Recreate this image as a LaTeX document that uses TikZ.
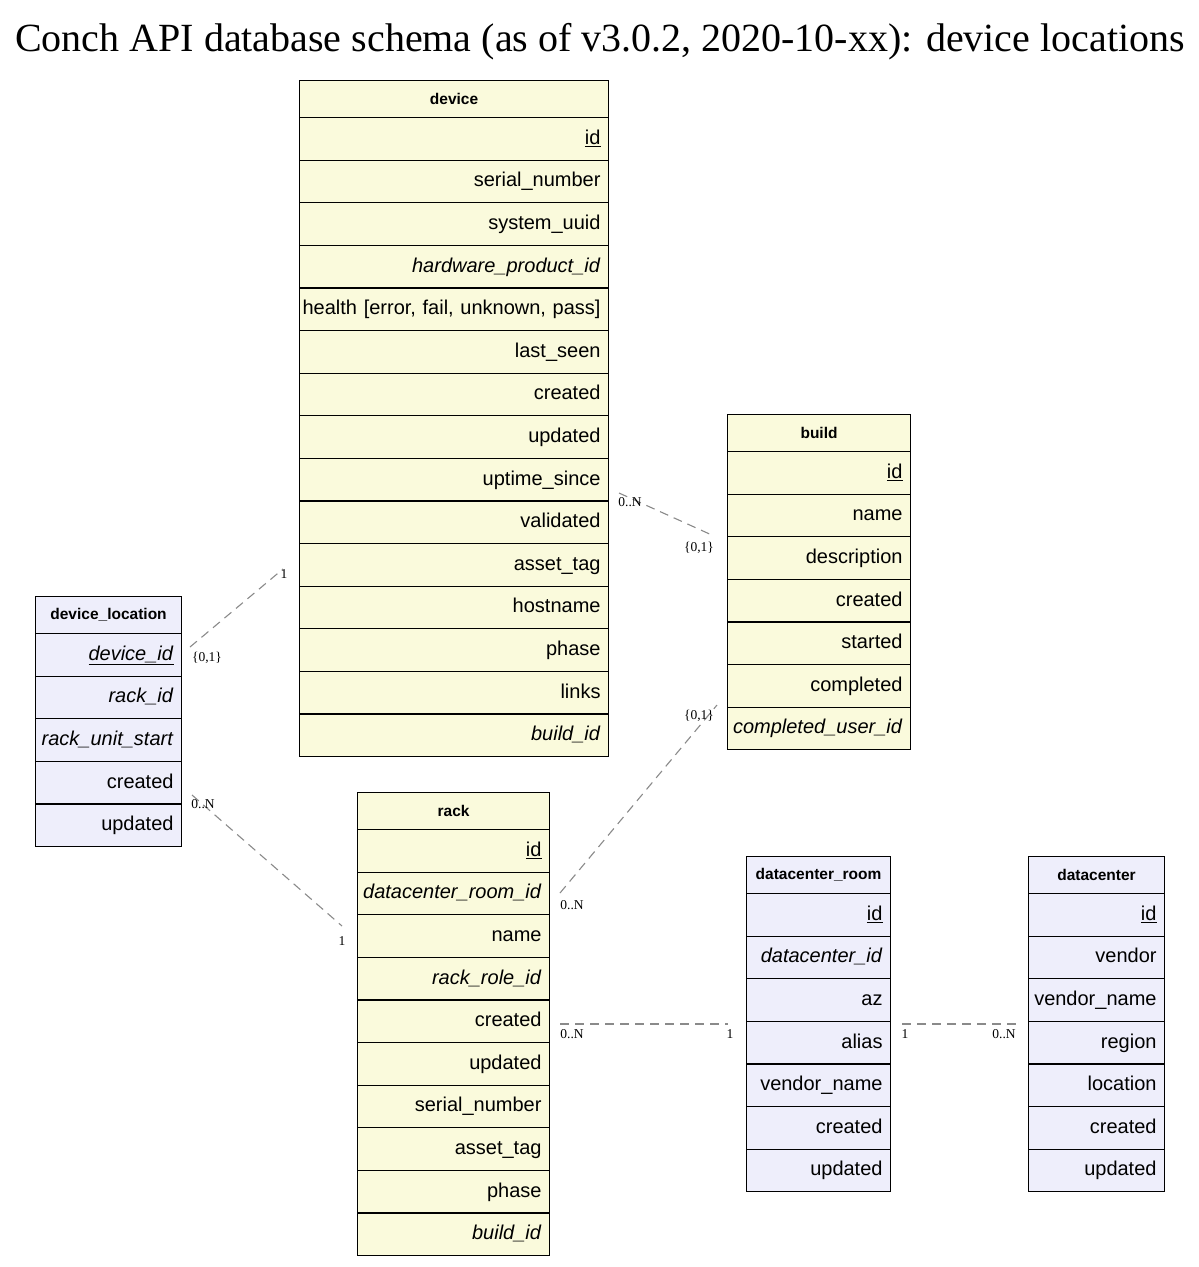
\documentclass[tikz,border=0pt]{standalone}
\usepackage{fontspec}
\setmainfont{Liberation Serif}
\setsansfont{Liberation Sans}
\usepackage{tikz}
\usetikzlibrary{positioning}
\usetikzlibrary{calc}

\definecolor{tblyellow}{HTML}{FAFADC}
\definecolor{tblblue}{HTML}{EEEEFB}
\definecolor{fkgray}{HTML}{8A8A8A}

% table: name, x, y, width, fill, header, fields
\newcommand{\dbtable}[7]{%
\node[tblhead, fill=#5, minimum width=#4, anchor=north west] (#1) at (#2,#3) {#6};
\foreach \f [count=\i] in {#7}
  \node[tblrow, fill=#5, text width={#4-16}, anchor=north west] (#1-\i) at (#2,{#3+37+(\i-1)*42.6}) {\llap{\f}};
}

\begin{document}
\begin{tikzpicture}[x=1pt, y=-1pt,
  tblhead/.style={draw, line width=1.1pt, minimum height=37, inner sep=0pt, font=\sffamily\bfseries\fontsize{15.5}{17}\selectfont},
  tblrow/.style={draw, line width=1.1pt, minimum height=42.6, inner xsep=8pt, inner ysep=0pt, align=right, text height=15, text depth=4, font=\sffamily\fontsize{20}{22}\selectfont},
  fk/.style={draw=fkgray, line width=1.1pt, dash pattern=on 9pt off 6pt},
  card/.style={inner sep=0pt, font=\fontsize{13.5}{15}\selectfont}]
\useasboundingbox (0,0) rectangle (1199,1267);

\node[font=\fontsize{40}{44}\selectfont] (title) at (600,42) {Conch API database schema (as of v3.0.2, 2020-10-xx): device locations};

%%%%%%%%%%%%%%%%%%%%%%%%%%%%%%%%%%%%%
\dbtable{device}{299}{80}{309}{tblyellow}{device}{\underline{id}, serial\_number, system\_uuid, \textit{hardware\_product\_id}, {health [error, fail, unknown, pass]}, last\_seen, created, updated, uptime\_since, validated, asset\_tag, hostname, phase, links, \textit{build\_id}}
\dbtable{build}{727}{414}{183}{tblyellow}{build}{\underline{id}, name, description, created, started, completed, \textit{completed\_user\_id}}
\dbtable{dl}{35}{596}{146}{tblblue}{device\_location}{\underline{\textit{device\_id}}, \textit{rack\_id}, \textit{rack\_unit\_start}, created, updated}
\dbtable{rack}{357}{792}{192}{tblyellow}{rack}{\underline{id}, \textit{datacenter\_room\_id}, name, \textit{rack\_role\_id}, created, updated, serial\_number, asset\_tag, phase, \textit{build\_id}}
\dbtable{dcr}{746}{856}{144}{tblblue}{datacenter\_room}{\underline{id}, \textit{datacenter\_id}, az, alias, vendor\_name, created, updated}
\dbtable{dc}{1028}{856}{136}{tblblue}{datacenter}{\underline{id}, vendor, vendor\_name, region, location, created, updated}

%%%%%%%%%%%%%%%%%%%%%%%%%%%%%%%%%%%%%
\coordinate (dlA) at (190,647);
\coordinate (devA) at (283,569);
\coordinate (devB) at (619,493);
\coordinate (buildA) at (714,536);
\coordinate (rackA) at (560,893);
\coordinate (buildB) at (717,705);
\coordinate (dlB) at (192,795);
\coordinate (rackB) at (342,926);
\coordinate (rackC) at (560,1024);
\coordinate (dcrA) at (728,1024);
\coordinate (dcrB) at (902,1024);
\coordinate (dcA) at (1017,1024);

\draw[fk] (dlA) -- (devA);
\draw[fk] (devB) -- (buildA);
\draw[fk] (rackA) -- (buildB);
\draw[fk] (dlB) -- (rackB);
\draw[fk] (rackC) -- (dcrA);
\draw[fk] (dcrB) -- (dcA);

\node[card] (c1a) at (207,658) {\{0,1\}};
\node[card] (c1b) at (284,574) {1};
\node[card] (c2a) at (630,502) {0..N};
\node[card] (c2b) at (699,548) {\{0,1\}};
\node[card] (c3a) at (572,905) {0..N};
\node[card] (c3b) at (699,716) {\{0,1\}};
\node[card] (c4a) at (203,804) {0..N};
\node[card] (c4b) at (342,941) {1};
\node[card] (c5a) at (572,1034) {0..N};
\node[card] (c5b) at (730,1034) {1};
\node[card] (c6a) at (905,1034) {1};
\node[card] (c6b) at (1004,1034) {0..N};
\end{tikzpicture}
\end{document}
